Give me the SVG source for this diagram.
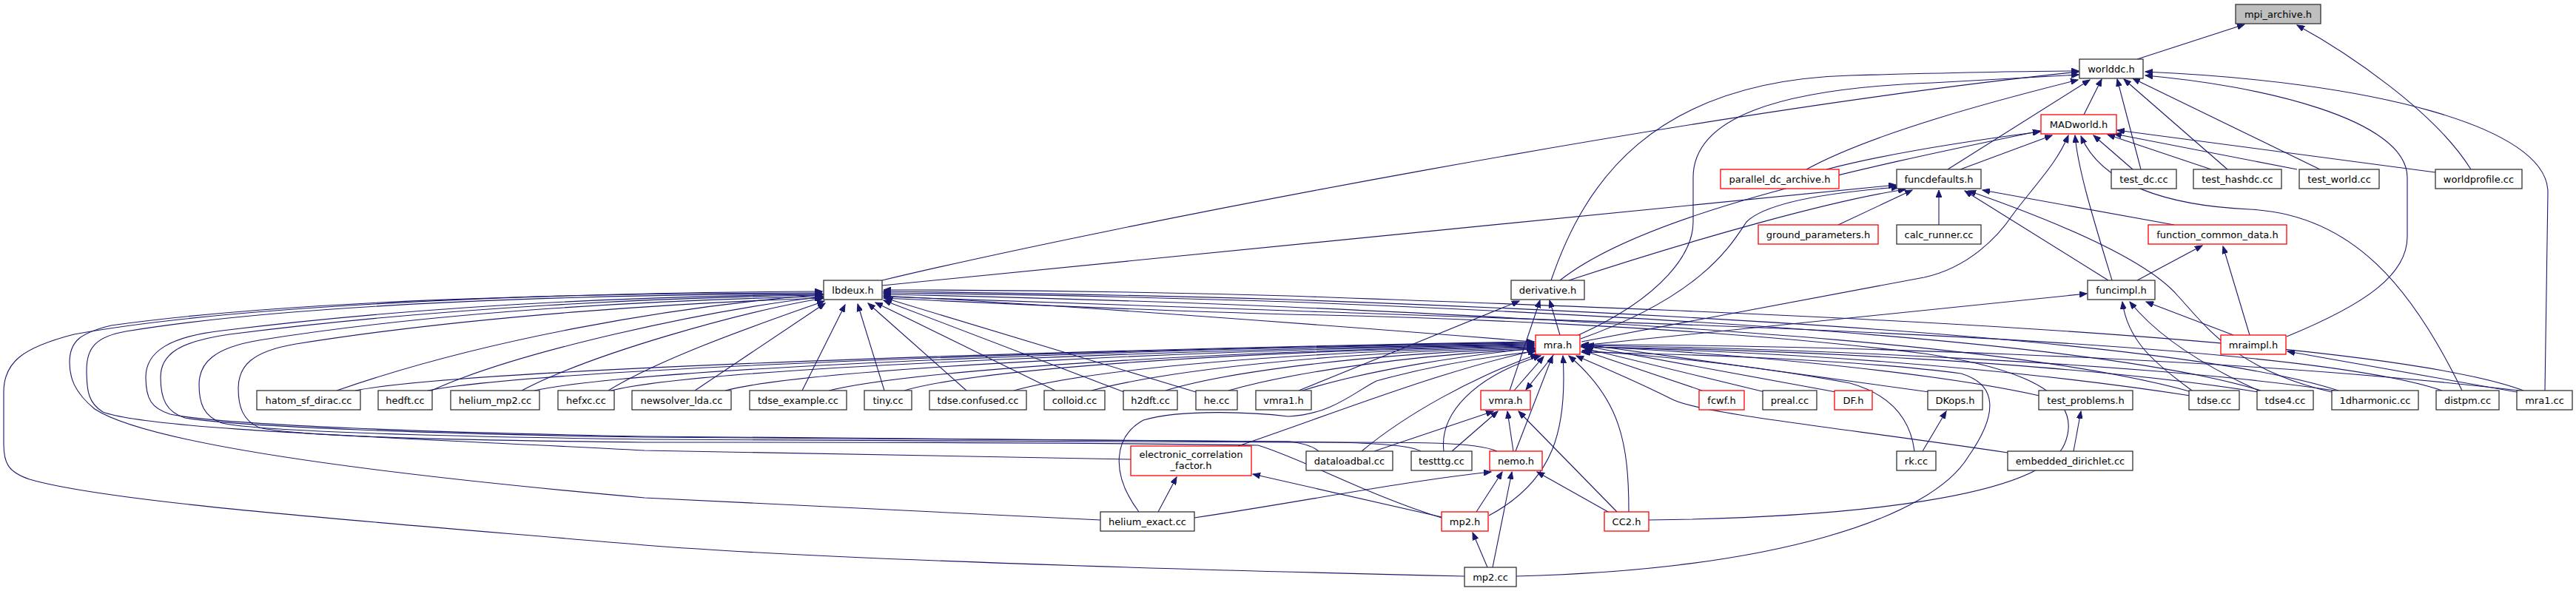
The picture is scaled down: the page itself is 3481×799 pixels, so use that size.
<svg xmlns="http://www.w3.org/2000/svg" width="3481" height="799" viewBox="0 0 3481 799">
<style>
.n rect{fill:#fff;stroke:#333;stroke-width:1.3}
.n.r rect{stroke:#ff0000}
.n.g rect{fill:#bfbfbf}
.n text{font-family:"DejaVu Sans","Liberation Sans",sans-serif;font-size:13px;fill:#000;text-anchor:middle}
#edges path{fill:none;stroke:#191970;stroke-width:1.1;marker-end:url(#ah)}
</style>
<defs>
<marker id="ah" markerWidth="11" markerHeight="8" refX="10" refY="4" orient="auto" markerUnits="userSpaceOnUse"><path d="M0,0 L10,4 L0,8 z" fill="#191970" stroke="#191970" stroke-width="1"/></marker>
</defs>
<rect width="3481" height="799" fill="#fff"/>
<g id="edges">
<path d="M2888,80 L3033,33"/>
<path d="M3339,229 C3290,150 3170,70 3104,34"/>
<path d="M2816,155 L2840,107"/>
<path d="M2441,229 C2530,180 2700,135 2808,108"/>
<path d="M2468,229 C2560,205 2680,188 2757,178"/>
<path d="M2632,229 L2824,108"/>
<path d="M2649,229 L2773,183"/>
<path d="M2893,229 L2861,107"/>
<path d="M2882,229 L2829,183"/>
<path d="M3010,229 L2870,107"/>
<path d="M2988,229 L2848,182"/>
<path d="M3135,229 L2882,106"/>
<path d="M3104,229 L2857,181"/>
<path d="M3291,233 L2861,176"/>
<path d="M1192,379 C1500,305 2300,150 2809,97"/>
<path d="M1192,386 L2562,250"/>
<path d="M2096,379 C2140,250 2230,110 2500,102 C2650,98 2750,96 2809,96"/>
<path d="M2108,379 C2220,290 2500,230 2757,177"/>
<path d="M2120,379 C2300,320 2480,270 2575,256"/>
<path d="M2133,453 C2250,400 2288,340 2288,300 L2288,240 C2288,160 2400,120 2611,112 L2809,101"/>
<path d="M2137,462 L2600,375 C2660,362 2700,320 2720,290 C2750,250 2780,220 2795,183"/>
<path d="M2136,458 C2300,400 2340,330 2360,300 C2390,270 2500,258 2566,253"/>
<path d="M2108,453 L2094,406"/>
<path d="M2040,528 L2081,406"/>
<path d="M1755,528 L2053,407"/>
<path d="M2100,479 L2062,527"/>
<path d="M2046,528 L2086,482"/>
<path d="M2849,379 L2655,258"/>
<path d="M2888,379 L2976,332"/>
<path d="M2854,379 C2830,300 2808,230 2804,183"/>
<path d="M2137,467 L2820,397"/>
<path d="M2620,304 L2620,257"/>
<path d="M2484,304 L2584,257"/>
<path d="M2938,304 L2679,257"/>
<path d="M3018,453 L2900,408"/>
<path d="M3040,453 L3004,333"/>
<path d="M3090,455 C3200,410 3253,370 3253,320 L3253,240 C3253,160 3050,115 2899,102"/>
<path d="M3439,528 L3443,260 C3443,170 3200,110 2899,97"/>
<path d="M3401,530 L3091,475"/>
<path d="M3327,528 C3260,390 3180,290 3040,283 C2930,278 2840,250 2812,184"/>
<path d="M2962,528 C2910,490 2875,460 2868,408"/>
<path d="M3052,528 C2990,500 2920,460 2878,408"/>
<path d="M3151,530 C3020,500 2980,440 2943,400 C2900,350 2780,300 2660,258"/>
<path d="M2300,528 L2140,474"/>
<path d="M2385,530 L2142,471"/>
<path d="M2481,530 L2143,468"/>
<path d="M2607,530 L2144,466"/>
<path d="M2756,535 C2600,500 2300,475 2137,468"/>
<path d="M2960,535 C2700,495 2400,475 2137,469"/>
<path d="M3052,530 C2800,490 2400,472 2137,469"/>
<path d="M3155,528 C2900,490 2400,470 2137,467"/>
<path d="M3404,528 C3000,480 2400,466 2137,466"/>
<path d="M2587,610 C2582,570 2560,535 2500,518 C2350,490 2200,478 2138,474"/>
<path d="M2713,612 C2500,580 2300,560 2260,540 C2200,510 2150,490 2130,481"/>
<path d="M2201,692 C2201,600 2190,540 2120,481"/>
<path d="M2012,697 C2100,650 2118,580 2112,481"/>
<path d="M2048,610 L2098,481"/>
<path d="M1951,610 C1945,560 1990,510 2082,481"/>
<path d="M1840,610 C1900,560 1990,510 2078,479"/>
<path d="M1539,692 C1500,640 1505,590 1545,568 C1600,552 1700,558 1741,563 C1800,560 1830,530 1860,515 C1950,490 2030,480 2075,475"/>
<path d="M1673,603 C1800,560 1950,500 2075,474"/>
<path d="M1760,528 C1850,500 1980,480 2074,471"/>
<path d="M2049,779 C2400,770 2610,700 2660,617 C2700,560 2700,520 2650,505 C2500,485 2250,478 2137,476"/>
<path d="M480,528 C650,495 1600,470 2073,462"/>
<path d="M578,528 C750,495 1600,470 2073,463"/>
<path d="M722,528 C880,495 1600,470 2073,464"/>
<path d="M826,528 C950,497 1600,472 2073,465"/>
<path d="M980,528 C1100,497 1650,472 2073,466"/>
<path d="M1120,528 C1250,497 1700,473 2073,467"/>
<path d="M1222,528 C1330,497 1700,474 2073,468"/>
<path d="M1370,528 C1480,498 1750,475 2073,469"/>
<path d="M1475,528 C1580,500 1800,476 2073,470"/>
<path d="M1575,528 C1660,502 1850,478 2073,471"/>
<path d="M1660,528 C1740,505 1900,480 2074,472"/>
<path d="M455,528 C650,460 900,415 1113,398"/>
<path d="M583,528 C700,475 950,420 1113,401"/>
<path d="M705,528 C800,478 1000,422 1113,403"/>
<path d="M822,528 C900,480 1050,430 1114,407"/>
<path d="M939,528 L1115,410"/>
<path d="M1084,528 L1142,412"/>
<path d="M1195,528 L1159,411"/>
<path d="M1306,528 L1173,410"/>
<path d="M1426,528 L1183,409"/>
<path d="M1519,530 L1194,406"/>
<path d="M1616,530 L1196,403"/>
<path d="M1979,779 C1500,768 1100,755 871,737 C500,705 150,680 40,648 C10,638 5,625 5,600 L5,530 C5,490 30,470 100,452 C300,415 700,396 1111,394"/>
<path d="M1487,703 C1200,690 1000,680 871,673 C500,640 200,600 128,553 C100,530 94,510 94,490 C94,460 110,450 150,440 C400,405 800,396 1111,396"/>
<path d="M1528,621 C1200,615 1000,612 871,609 C500,590 200,580 139,557 C120,545 117,530 117,500 C117,470 130,455 170,448 C400,410 800,398 1111,397"/>
<path d="M1782,610 C1770,600 1750,598 1741,597 C1400,592 1100,592 871,590 C600,585 300,575 230,560 C205,552 197,540 197,510 C197,475 230,455 300,447 C600,410 900,400 1111,398"/>
<path d="M1920,610 C1900,598 1800,598 1741,597 C1400,593 1100,593 871,591 C600,587 320,577 250,565 C225,557 217,540 217,510 C217,480 240,462 310,452 C600,415 900,402 1111,399"/>
<path d="M2023,610 C1990,596 1900,598 1741,598 C1400,595 1100,595 871,594 C600,590 350,583 300,572 C275,563 269,545 269,520 C269,490 290,470 350,460 C600,420 900,405 1111,401"/>
<path d="M1948,700 C1850,670 1760,620 1700,602 C1400,597 1000,598 871,598 C600,595 400,590 350,578 C328,568 322,550 322,525 C322,495 340,475 400,465 C650,425 950,408 1111,403"/>
<path d="M2073,462 C1800,440 1400,410 1194,400"/>
<path d="M2962,530 C2750,470 2300,440 1741,415 C1500,405 1300,400 1194,398"/>
<path d="M3055,528 C2850,465 2300,430 1741,408 C1500,400 1300,397 1194,396"/>
<path d="M3160,528 C2950,460 2300,425 1741,405 C1500,398 1300,395 1194,394"/>
<path d="M3300,528 C3100,460 2300,440 1741,420 C1500,410 1300,403 1194,401"/>
<path d="M3410,528 C3200,450 2300,420 1741,400 C1500,393 1300,392 1194,392"/>
<path d="M2228,703 C2500,700 2760,672 2790,600 C2815,540 2750,500 2600,478 C2300,440 1900,428 1741,425 C1500,418 1300,408 1194,403"/>
<path d="M2598,610 L2630,556"/>
<path d="M2802,610 L2812,556"/>
<path d="M1565,692 L1590,645"/>
<path d="M1614,700 C1750,680 1900,650 2015,638"/>
<path d="M1948,699 L1693,641"/>
<path d="M1995,692 L2030,638"/>
<path d="M2010,767 L1990,720"/>
<path d="M2017,767 L2043,638"/>
<path d="M2173,692 L2077,638"/>
<path d="M2185,692 L2052,556"/>
<path d="M1857,610 L2018,556"/>
<path d="M1962,610 L2024,556"/>
<path d="M2045,610 L2037,556"/>
</g>
<g id="node-mpi_archive" class="n g"><rect x="3021" y="6" width="115" height="26"/><text x="3078.5" y="23.5">mpi_archive.h</text></g>
<g id="node-worlddc" class="n"><rect x="2810" y="80" width="86" height="26"/><text x="2853" y="97.5">worlddc.h</text></g>
<g id="node-MADworld" class="n r"><rect x="2758" y="155" width="102" height="26"/><text x="2809" y="172.5">MADworld.h</text></g>
<g id="node-parallel_dc_archive" class="n r"><rect x="2325" y="229" width="160" height="26"/><text x="2405" y="246.5">parallel_dc_archive.h</text></g>
<g id="node-funcdefaults" class="n"><rect x="2563" y="229" width="114" height="26"/><text x="2620" y="246.5">funcdefaults.h</text></g>
<g id="node-test_dc" class="n"><rect x="2853" y="229" width="88" height="26"/><text x="2897" y="246.5">test_dc.cc</text></g>
<g id="node-test_hashdc" class="n"><rect x="2964" y="229" width="119" height="26"/><text x="3023.5" y="246.5">test_hashdc.cc</text></g>
<g id="node-test_world" class="n"><rect x="3107" y="229" width="108" height="26"/><text x="3161" y="246.5">test_world.cc</text></g>
<g id="node-worldprofile" class="n"><rect x="3291" y="229" width="117" height="26"/><text x="3349.5" y="246.5">worldprofile.cc</text></g>
<g id="node-ground_parameters" class="n r"><rect x="2376" y="304" width="162" height="26"/><text x="2457" y="321.5">ground_parameters.h</text></g>
<g id="node-calc_runner" class="n"><rect x="2563" y="304" width="114" height="26"/><text x="2620" y="321.5">calc_runner.cc</text></g>
<g id="node-function_common_data" class="n r"><rect x="2903" y="304" width="187" height="26"/><text x="2996.5" y="321.5">function_common_data.h</text></g>
<g id="node-lbdeux" class="n"><rect x="1113" y="379" width="79" height="26"/><text x="1152.5" y="396.5">lbdeux.h</text></g>
<g id="node-derivative" class="n"><rect x="2042" y="379" width="99" height="26"/><text x="2091.5" y="396.5">derivative.h</text></g>
<g id="node-funcimpl" class="n"><rect x="2821" y="379" width="91" height="26"/><text x="2866.5" y="396.5">funcimpl.h</text></g>
<g id="node-mra" class="n r"><rect x="2075" y="453" width="60" height="26"/><text x="2105" y="470.5">mra.h</text></g>
<g id="node-mraimpl" class="n r"><rect x="3001" y="453" width="88" height="26"/><text x="3045" y="470.5">mraimpl.h</text></g>
<g id="node-hatom_sf_dirac" class="n"><rect x="347" y="528" width="140" height="26"/><text x="417" y="545.5">hatom_sf_dirac.cc</text></g>
<g id="node-hedft" class="n"><rect x="511" y="528" width="73" height="26"/><text x="547.5" y="545.5">hedft.cc</text></g>
<g id="node-helium_mp2" class="n"><rect x="609" y="528" width="120" height="26"/><text x="669" y="545.5">helium_mp2.cc</text></g>
<g id="node-hefxc" class="n"><rect x="754" y="528" width="76" height="26"/><text x="792" y="545.5">hefxc.cc</text></g>
<g id="node-newsolver_lda" class="n"><rect x="854" y="528" width="134" height="26"/><text x="921" y="545.5">newsolver_lda.cc</text></g>
<g id="node-tdse_example" class="n"><rect x="1013" y="528" width="131" height="26"/><text x="1078.5" y="545.5">tdse_example.cc</text></g>
<g id="node-tiny" class="n"><rect x="1168" y="528" width="64" height="26"/><text x="1200" y="545.5">tiny.cc</text></g>
<g id="node-tdse_confused" class="n"><rect x="1256" y="528" width="131" height="26"/><text x="1321.5" y="545.5">tdse.confused.cc</text></g>
<g id="node-colloid" class="n"><rect x="1411" y="528" width="82" height="26"/><text x="1452" y="545.5">colloid.cc</text></g>
<g id="node-h2dft" class="n"><rect x="1518" y="528" width="73" height="26"/><text x="1554.5" y="545.5">h2dft.cc</text></g>
<g id="node-he" class="n"><rect x="1616" y="528" width="56" height="26"/><text x="1644" y="545.5">he.cc</text></g>
<g id="node-vmra1" class="n"><rect x="1697" y="528" width="75" height="26"/><text x="1734.5" y="545.5">vmra1.h</text></g>
<g id="node-vmra" class="n r"><rect x="2001" y="528" width="67" height="26"/><text x="2034.5" y="545.5">vmra.h</text></g>
<g id="node-fcwf" class="n r"><rect x="2296" y="528" width="61" height="26"/><text x="2326.5" y="545.5">fcwf.h</text></g>
<g id="node-preal" class="n"><rect x="2382" y="528" width="73" height="26"/><text x="2418.5" y="545.5">preal.cc</text></g>
<g id="node-DF" class="n r"><rect x="2479" y="528" width="51" height="26"/><text x="2504.5" y="545.5">DF.h</text></g>
<g id="node-DKops" class="n"><rect x="2605" y="528" width="74" height="26"/><text x="2642" y="545.5">DKops.h</text></g>
<g id="node-test_problems" class="n"><rect x="2755" y="528" width="127" height="26"/><text x="2818.5" y="545.5">test_problems.h</text></g>
<g id="node-tdse" class="n"><rect x="2958" y="528" width="68" height="26"/><text x="2992" y="545.5">tdse.cc</text></g>
<g id="node-tdse4" class="n"><rect x="3050" y="528" width="76" height="26"/><text x="3088" y="545.5">tdse4.cc</text></g>
<g id="node-1dharmonic" class="n"><rect x="3151" y="528" width="117" height="26"/><text x="3209.5" y="545.5">1dharmonic.cc</text></g>
<g id="node-distpm" class="n"><rect x="3292" y="528" width="85" height="26"/><text x="3334.5" y="545.5">distpm.cc</text></g>
<g id="node-mra1" class="n"><rect x="3401" y="528" width="75" height="26"/><text x="3438.5" y="545.5">mra1.cc</text></g>
<g id="node-electronic_correlation_factor" class="n r"><rect x="1528" y="603" width="163" height="40"/><text x="1609.5" y="619">electronic_correlation</text><text x="1609.5" y="634">_factor.h</text></g>
<g id="node-dataloadbal" class="n"><rect x="1765" y="610" width="117" height="26"/><text x="1823.5" y="627.5">dataloadbal.cc</text></g>
<g id="node-testttg" class="n"><rect x="1907" y="610" width="82" height="26"/><text x="1948" y="627.5">testttg.cc</text></g>
<g id="node-nemo" class="n r"><rect x="2013" y="610" width="71" height="26"/><text x="2048.5" y="627.5">nemo.h</text></g>
<g id="node-rk" class="n"><rect x="2563" y="610" width="53" height="26"/><text x="2589.5" y="627.5">rk.cc</text></g>
<g id="node-embedded_dirichlet" class="n"><rect x="2713" y="610" width="169" height="26"/><text x="2797.5" y="627.5">embedded_dirichlet.cc</text></g>
<g id="node-helium_exact" class="n"><rect x="1487" y="692" width="127" height="26"/><text x="1550.5" y="709.5">helium_exact.cc</text></g>
<g id="node-mp2_h" class="n r"><rect x="1948" y="692" width="63" height="26"/><text x="1979.5" y="709.5">mp2.h</text></g>
<g id="node-CC2" class="n r"><rect x="2168" y="692" width="60" height="26"/><text x="2198" y="709.5">CC2.h</text></g>
<g id="node-mp2_cc" class="n"><rect x="1979" y="767" width="70" height="26"/><text x="2014" y="784.5">mp2.cc</text></g>
</svg>
